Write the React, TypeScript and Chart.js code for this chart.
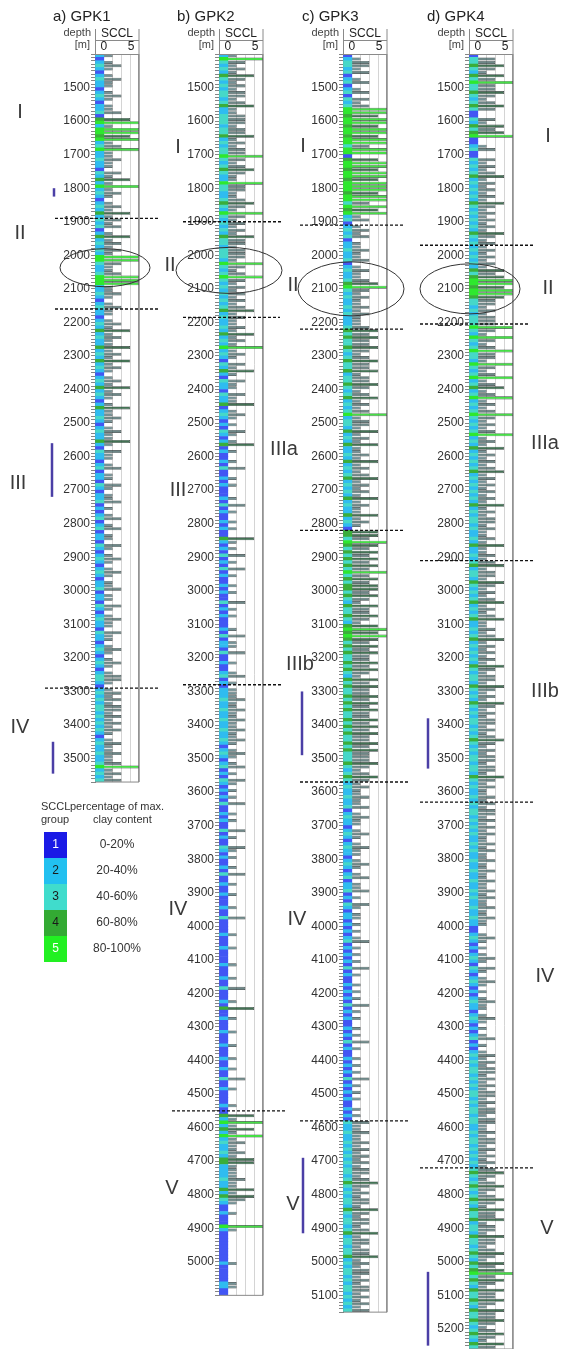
import React, { useEffect, useRef } from "react";
import { Chart, registerables } from "chart.js";

Chart.register(...registerables);

const FONT = '"Liberation Sans", Arial, sans-serif';
const W = 563;
const H = 1349;
const PX_PER_M = 0.3355;
const COL_TOP = 54;
const COL_W = 44;
const AXIS_W = 40;
const STEP = 10; // sampling interval of the SCCL logs [m]

// SCCL group per 10 m, one row per 100 m
const gpk1 = [
  2,1,2,3,2,1,2,3,2,2, 1,2,3,2,1,2,2,3,1,4, 5,2,5,5,4,5,2,3,5,2, 2,3,2,2,1,3,2,4,2,5,
  2,3,2,1,2,3,2,4,2,3, 2,3,1,2,4,2,3,2,3,2, 5,5,3,2,2,3,5,5,5,2, 2,3,2,1,2,3,2,2,1,2,
  3,2,4,2,3,2,2,4,2,3, 2,4,2,3,2,1,2,3,2,4, 2,3,2,1,2,4,2,2,3,2, 1,2,3,2,2,4,2,1,3,2,
  2,1,2,3,1,2,2,1,3,2, 1,2,2,3,1,2,1,2,3,1, 2,3,1,2,2,1,3,2,1,2, 3,2,1,2,3,2,1,2,2,3,
  1,2,2,1,3,2,1,2,3,2, 2,1,3,2,2,1,2,3,2,1, 2,3,2,1,2,3,3,2,1,2, 3,2,3,2,3,3,2,3,2,3,
  2,3,2,1,2,3,2,2,3,2, 2,3,5,2,3,2,3,
];
const gpk2 = [
  2,5,3,2,3,2,4,3,2,3, 2,3,3,2,3,4,2,2,3,3, 3,2,3,3,4,2,3,2,3,3, 5,3,2,3,4,3,2,2,5,3,
  3,2,2,3,4,3,2,5,3,2, 3,2,3,2,4,3,3,2,3,3, 3,2,5,3,2,3,5,3,2,3, 2,3,2,3,2,3,4,2,3,2,
  2,3,2,4,2,3,2,5,2,3, 2,1,3,2,4,2,1,3,2,2, 1,3,2,2,4,1,2,3,2,1, 2,1,3,2,1,2,4,1,2,1,
  1,2,1,3,1,1,2,1,2,1, 1,1,2,1,3,1,2,1,1,2, 1,2,1,1,4,2,1,2,1,3, 1,2,1,3,1,2,1,1,2,1,
  2,1,1,3,1,2,1,2,1,1, 1,2,1,3,1,2,2,1,3,1, 1,2,1,1,2,3,1,2,1,2, 2,2,3,2,2,3,2,2,3,2,
  2,3,2,2,3,2,1,2,3,2, 1,2,3,1,2,1,3,2,1,2, 1,2,1,3,1,1,2,1,2,1, 1,3,1,2,1,1,3,2,1,2,
  1,1,2,1,3,1,1,2,1,1, 2,1,1,1,2,1,1,3,1,1, 1,1,2,1,1,1,2,1,1,1, 1,2,1,1,1,2,1,1,3,1,
  1,1,2,1,4,1,1,2,1,1, 1,2,1,1,1,2,1,1,1,2, 1,1,2,1,1,3,1,1,2,1, 1,1,1,2,1,1,4,2,5,2,
  4,2,5,2,3,2,2,3,2,4, 4,2,2,2,2,3,2,2,4,2, 4,3,2,1,1,2,1,1,1,5, 2,1,1,1,1,1,1,1,1,1,
  2,1,1,1,1,1,2,2,1,1,
];
const gpk3 = [
  1,2,3,3,2,3,1,2,3,1, 2,3,1,3,2,3,5,5,4,5, 5,4,5,5,4,5,5,3,5,5, 1,4,5,5,4,5,5,4,5,5,
  5,4,5,5,3,5,4,5,2,3, 1,2,3,2,3,1,2,2,3,2, 2,3,1,2,3,2,2,3,4,5, 3,2,3,2,2,3,2,3,2,2,
  2,3,4,3,4,3,3,4,3,2, 3,4,3,3,4,2,3,3,4,3, 2,3,4,2,3,2,3,5,2,3, 3,2,4,2,3,2,4,2,2,3,
  2,4,2,3,2,3,4,2,3,2, 3,2,4,2,3,2,2,4,2,3, 2,1,4,4,3,5,4,3,4,3, 4,3,4,3,5,3,4,3,4,4,
  3,4,3,2,4,3,3,4,3,2, 4,5,4,5,4,3,4,3,4,3, 3,4,3,4,3,2,4,3,4,3, 3,4,3,4,3,4,3,3,4,3,
  4,3,4,3,3,4,3,4,3,3, 3,4,3,2,3,4,3,2,3,2, 2,3,2,2,3,1,2,3,2,2, 1,2,3,2,1,2,3,2,2,1,
  2,3,2,1,2,3,1,2,2,3, 1,2,1,3,2,1,2,2,1,2, 1,2,1,2,3,1,2,1,2,1, 2,1,3,1,2,1,1,2,1,2,
  1,2,1,3,1,2,1,2,1,1, 2,1,2,1,3,1,2,1,1,2, 1,2,1,2,1,3,1,2,1,2, 1,2,1,1,2,1,2,1,3,2,
  2,3,2,2,3,2,3,2,3,2, 3,2,3,3,2,3,4,3,2,3, 2,3,3,2,4,3,2,3,3,2, 3,4,2,3,3,2,3,3,4,2,
  3,2,3,3,2,3,2,3,3,2, 3,2,3,2,3,
];
const gpk4 = [
  1,3,3,4,3,2,4,3,5,3, 3,4,3,2,3,4,3,1,1,3, 2,4,3,4,5,1,1,2,3,1, 1,3,2,3,2,3,4,2,3,2,
  3,2,3,2,4,3,2,3,2,3, 2,3,2,4,3,2,3,2,3,2, 3,2,3,2,4,3,4,5,5,4, 5,5,4,3,3,2,3,2,3,3,
  3,5,3,2,5,3,2,3,5,3, 3,2,5,3,2,3,5,2,3,4, 2,3,5,2,3,2,3,5,3,2, 3,2,3,5,2,3,2,4,2,3,
  2,3,2,3,4,2,3,2,3,2, 3,2,3,2,4,2,3,2,3,3, 2,3,2,2,3,2,4,2,2,3, 2,3,4,2,3,3,2,4,3,2,
  3,2,3,4,2,3,2,3,4,2, 2,3,2,3,4,2,3,2,3,2, 3,2,4,3,2,3,3,2,4,3, 2,3,2,4,3,2,3,2,3,3,
  2,3,2,3,4,3,2,3,2,3, 3,2,3,3,2,4,3,2,3,2, 2,3,2,3,2,3,3,2,3,2, 3,2,3,2,2,3,2,3,2,2,
  3,2,2,3,2,2,3,2,2,3, 2,3,2,2,3,2,2,3,2,2, 1,1,2,3,2,1,2,1,2,3, 2,1,3,2,1,2,3,2,1,2,
  1,2,3,2,2,1,2,3,2,1, 2,1,2,3,1,2,1,2,3,2, 3,2,3,3,2,3,2,3,2,3, 3,2,3,2,3,3,2,3,3,2,
  2,3,2,3,3,2,3,2,3,2, 3,2,3,4,3,2,3,4,3,2, 3,4,3,2,4,3,3,4,2,3, 3,2,4,3,3,2,3,4,3,2,
  4,3,4,5,3,4,3,2,4,3, 3,4,3,2,4,3,3,4,3,2, 3,4,3,2,4,3,
];

const groupColors = ["#4256f4", "#2fbcf0", "#46d8c8", "#3aae3a", "#2ee82e"];
const tailColors = [
  "rgba(0,0,0,0)",
  "rgba(75,115,120,0.78)",
  "rgba(60,95,95,0.75)",
  "rgba(35,90,55,0.85)",
  "rgba(50,220,50,0.9)",
];
const legendColors = ["#1a1ae6", "#22c0f0", "#40dccc", "#33aa33", "#22f022"];
const legendGroups = ["1", "2", "3", "4", "5"];
const legendLabels = ["0-20%", "20-40%", "40-60%", "60-80%", "80-100%"];

type Well = {
  title: string;
  titleX: number;
  colLeft: number;
  top: number;
  bottom: number;
  values: number[];
  dashed: [number, number, number][];
  numerals: [string, number, number][];
  bars: [number, number, number][];
  ellipse: [number, number, number, number];
  legend?: boolean;
};

const wells: Well[] = [
  {
    title: "a) GPK1", titleX: 53, colLeft: 95, top: 1400, bottom: 3570, values: gpk1,
    dashed: [[1890, 55, 158], [2160, 55, 158], [3290, 45, 158]],
    numerals: [["I", 20, 1575], ["II", 20, 1935], ["III", 18, 2680], ["IV", 20, 3408]],
    bars: [[54, 1800, 1825], [52, 2560, 2720], [53, 3450, 3545]],
    ellipse: [105, 2037, 45, 19],
    legend: true,
  },
  {
    title: "b) GPK2", titleX: 177, colLeft: 219, top: 1400, bottom: 5100, values: gpk2,
    dashed: [[1900, 183, 283], [2185, 183, 280], [3280, 183, 283], [4550, 172, 287]],
    numerals: [["I", 178, 1679], ["II", 170, 2030], ["III", 178, 2700], ["IV", 178, 3950], ["V", 172, 4780]],
    bars: [],
    ellipse: [229, 2045, 53, 23],
  },
  {
    title: "c) GPK3", titleX: 302, colLeft: 343, top: 1400, bottom: 5150, values: gpk3,
    dashed: [[1910, 300, 405], [2220, 300, 405], [2820, 300, 405], [3570, 300, 408], [4580, 300, 410]],
    numerals: [["I", 303, 1676], ["II", 293, 2090], ["IIIa", 284, 2580], ["IIIb", 300, 3220], ["IV", 297, 3980], ["V", 293, 4830]],
    bars: [[302, 3300, 3490], [303, 4690, 4915]],
    ellipse: [351, 2100, 53, 27],
  },
  {
    title: "d) GPK4", titleX: 427, colLeft: 469, top: 1400, bottom: 5260, values: gpk4,
    dashed: [[1970, 420, 533], [2205, 420, 530], [2910, 420, 533], [3630, 420, 533], [4720, 420, 533]],
    numerals: [["I", 548, 1647], ["II", 548, 2100], ["IIIa", 545, 2560], ["IIIb", 545, 3300], ["IV", 545, 4150], ["V", 547, 4900]],
    bars: [[428, 3380, 3530], [428, 5030, 5250]],
    ellipse: [470, 2100, 50, 25],
  },
];

function annotationPlugin(well: Well) {
  return {
    id: "wellAnnotations",
    afterDraw(chart: any) {
      const { ctx, chartArea: a, scales } = chart;
      const ys = scales.y;
      const xs = scales.x;
      const line = (x1: number, y1: number, x2: number, y2: number) => {
        ctx.beginPath();
        ctx.moveTo(x1, y1);
        ctx.lineTo(x2, y2);
        ctx.stroke();
      };
      ctx.save();
      // frame of the SCCL column and its header
      ctx.strokeStyle = "#8a8a8a";
      ctx.lineWidth = 1;
      line(a.left + 0.5, 29, a.left + 0.5, a.top);
      line(a.right, 29, a.right, a.bottom);
      line(a.left, 40.5, a.right, 40.5);
      line(a.left, a.top + 0.5, a.right, a.top + 0.5);
      line(a.left, a.bottom, a.right, a.bottom);

      // header texts
      ctx.fillStyle = "#222";
      ctx.textBaseline = "middle";
      ctx.font = `15px ${FONT}`;
      ctx.textAlign = "left";
      ctx.fillText(well.title, well.titleX, 17);
      ctx.fillStyle = "#444";
      ctx.font = `11px ${FONT}`;
      ctx.textAlign = "right";
      ctx.fillText("depth", a.left - 4, 33);
      ctx.fillText("[m]", a.left - 5, 45);
      ctx.fillStyle = "#222";
      ctx.font = `12px ${FONT}`;
      ctx.textAlign = "center";
      ctx.fillText("SCCL", (a.left + a.right) / 2, 34);
      ctx.fillText("0", xs.getPixelForValue(1), 47);
      ctx.fillText("5", xs.getPixelForValue(4.1), 47);

      // zone boundaries
      ctx.strokeStyle = "#111";
      ctx.lineWidth = 1.4;
      ctx.setLineDash([3, 2]);
      for (const [d, x1, x2] of well.dashed) {
        const y = ys.getPixelForValue(d);
        line(x1, y, x2, y);
      }
      ctx.setLineDash([]);

      // ellipse
      const [ecx, ed, erx, ery] = well.ellipse;
      ctx.strokeStyle = "#333";
      ctx.lineWidth = 1;
      ctx.beginPath();
      ctx.ellipse(ecx, ys.getPixelForValue(ed), erx, ery, 0, 0, Math.PI * 2);
      ctx.stroke();

      // purple intervals
      ctx.strokeStyle = "#4b3fa6";
      ctx.lineWidth = 2.5;
      for (const [x, d1, d2] of well.bars) {
        line(x, ys.getPixelForValue(d1), x, ys.getPixelForValue(d2));
      }

      // roman numerals
      ctx.fillStyle = "#3a3a3a";
      ctx.font = `20px ${FONT}`;
      ctx.textAlign = "center";
      ctx.textBaseline = "middle";
      for (const [t, x, d] of well.numerals) {
        ctx.fillText(t, x, ys.getPixelForValue(d));
      }

      // legend
      if (well.legend) {
        ctx.fillStyle = "#333";
        ctx.font = `11px ${FONT}`;
        ctx.textAlign = "left";
        ctx.fillText("SCCL", 41, 807);
        ctx.fillText("percentage of max.", 70, 807);
        ctx.fillText("group", 41, 820);
        ctx.fillText("clay content", 93, 820);
        for (let i = 0; i < legendColors.length; i++) {
          const top = 832 + i * 26;
          ctx.fillStyle = legendColors[i];
          ctx.fillRect(44, top, 23, 26);
          ctx.fillStyle = i === 0 || i === 4 ? "#fff" : "#1a1a1a";
          ctx.font = `12px ${FONT}`;
          ctx.textAlign = "center";
          ctx.fillText(legendGroups[i], 55.5, top + 13);
          ctx.fillStyle = "#333";
          ctx.fillText(legendLabels[i], 117, top + 13);
        }
      }
      ctx.restore();
    },
  };
}

function makeChart(canvas: HTMLCanvasElement, well: Well) {
  const depths = well.values.map((_, i) => well.top + STEP / 2 + i * STEP);
  const stripData = well.values.map((g, i) => ({ y: depths[i], x: [0, 1], g }));
  const tailData = well.values
    .map((g, i) => ({ y: depths[i], x: [1, g], g }))
    .filter((p) => p.g > 1);
  const height = (well.bottom - well.top) * PX_PER_M;
  return new Chart(canvas, {
    type: "bar",
    data: {
      datasets: [
        {
          data: stripData as any,
          backgroundColor: (c: any) => groupColors[(c.raw?.g ?? 1) - 1],
          borderWidth: 0,
          grouped: false,
          barPercentage: 1,
          categoryPercentage: 1,
        },
        {
          data: tailData as any,
          backgroundColor: (c: any) => tailColors[(c.raw?.g ?? 1) - 1],
          borderColor: "rgba(10,20,20,0.8)",
          borderWidth: { top: 0.6, bottom: 0.6, right: 0.8, left: 0 },
          borderSkipped: false,
          grouped: false,
          barPercentage: 0.9,
          categoryPercentage: 1,
        },
      ] as any,
    },
    options: {
      indexAxis: "y",
      responsive: false,
      animation: false,
      devicePixelRatio: 1,
      events: [],
      layout: {
        padding: {
          left: well.colLeft - AXIS_W,
          right: W - well.colLeft - COL_W,
          top: COL_TOP,
          bottom: Math.max(0, H - COL_TOP - height),
        },
      },
      plugins: {
        legend: { display: false },
        tooltip: { enabled: false },
        title: { display: false },
      },
      scales: {
        x: {
          type: "linear",
          position: "top",
          min: 0,
          max: 5,
          offset: false,
          ticks: { display: false, stepSize: 1 },
          grid: {
            drawTicks: false,
            offset: false,
            color: (c: any) => (c.tick && c.tick.value === 5 ? "#9a9a9a" : "#d4d4d4"),
            lineWidth: (c: any) => (c.tick && c.tick.value === 5 ? 1.5 : 1),
          },
          border: { display: false },
          afterFit: (s: any) => {
            s.height = 0;
            s.paddingTop = 0;
            s.paddingBottom = 0;
            s.paddingLeft = 0;
            s.paddingRight = 0;
          },
        },
        y: {
          type: "linear",
          position: "left",
          reverse: true,
          min: well.top,
          max: well.bottom,
          offset: false,
          ticks: {
            stepSize: 10,
            autoSkip: false,
            maxRotation: 0,
            padding: 1,
            color: "#333",
            font: { family: FONT, size: 12 },
            callback: (v: any) =>
              v % 100 === 0 && v > well.top + 20 && v < well.bottom - 20 ? String(v) : "",
          },
          grid: {
            drawOnChartArea: false,
            drawTicks: true,
            offset: false,
            tickLength: 4,
            tickColor: "#666",
            tickWidth: 0.8,
          },
          border: { display: true, color: "#777", width: 1 },
          afterFit: (s: any) => {
            s.width = AXIS_W;
            s.paddingTop = 0;
            s.paddingBottom = 0;
          },
        },
      },
    } as any,
    plugins: [annotationPlugin(well)],
  });
}

function WellCanvas({ well }: { well: Well }) {
  const ref = useRef<HTMLCanvasElement | null>(null);
  useEffect(() => {
    if (!ref.current) return;
    const chart = makeChart(ref.current, well);
    return () => chart.destroy();
  }, [well]);
  return (
    <canvas
      ref={ref}
      width={W}
      height={H}
      style={{ position: "absolute", left: 0, top: 0, width: W, height: H }}
    />
  );
}

export default function App() {
  return (
    <div
      style={{
        position: "absolute",
        left: 0,
        top: 0,
        width: W,
        height: H,
        overflow: "hidden",
        background: "#fff",
      }}
    >
      {wells.map((w) => (
        <WellCanvas key={w.title} well={w} />
      ))}
    </div>
  );
}
